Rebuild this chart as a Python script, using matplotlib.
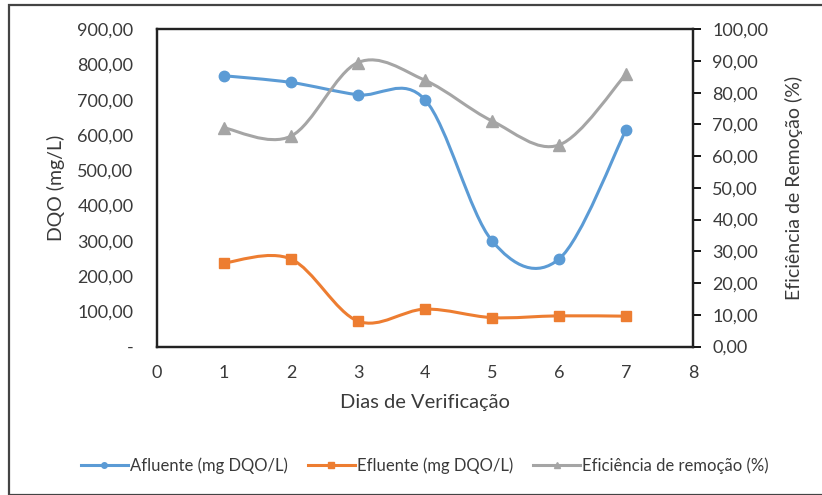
import matplotlib
matplotlib.use("Agg")
import matplotlib.pyplot as plt
from matplotlib.path import Path
from matplotlib.patches import PathPatch, Rectangle
from matplotlib.lines import Line2D
from matplotlib.ticker import FuncFormatter

dias = [1, 2, 3, 4, 5, 6, 7]
afluente = [768, 749, 714, 700, 300, 248, 614]
efluente = [237, 248, 72, 106, 82, 87, 86]
eficiencia = [68.9, 66.3, 89.5, 83.9, 71.1, 63.5, 85.8]

azul = "#5B9BD5"
laranja = "#ED7D31"
cinza = "#A5A5A5"
texto = "#3a3a3a"

plt.rcParams['font.family'] = ['Lato', 'DejaVu Sans']


def curva_suave(ax, x, y, cor):
    # bezier do tipo usado pelo Excel (linha suavizada)
    verts = [(x[0], y[0])]
    codes = [Path.MOVETO]
    n = len(x)
    for i in range(n - 1):
        x0, y0 = (x[i - 1], y[i - 1]) if i > 0 else (x[i], y[i])
        x3, y3 = (x[i + 2], y[i + 2]) if i + 2 < n else (x[i + 1], y[i + 1])
        c1 = (x[i] + (x[i + 1] - x0) / 6, y[i] + (y[i + 1] - y0) / 6)
        c2 = (x[i + 1] - (x3 - x[i]) / 6, y[i + 1] - (y3 - y[i]) / 6)
        verts += [c1, c2, (x[i + 1], y[i + 1])]
        codes += [Path.CURVE4] * 3
    ax.add_patch(PathPatch(Path(verts, codes), fill=False, edgecolor=cor,
                           lw=2.2, capstyle='round', zorder=3))


fig = plt.figure(figsize=(8.22, 4.95), dpi=100)
ax = fig.add_axes([0.191, 0.300, 0.652, 0.641])
ax2 = ax.twinx()

curva_suave(ax, dias, afluente, azul)
ax.plot(dias, afluente, 'o', color=azul, ms=7.5, zorder=4)
curva_suave(ax, dias, efluente, laranja)
ax.plot(dias, efluente, 's', color=laranja, ms=7.5, zorder=4)
curva_suave(ax2, dias, eficiencia, cinza)
ax2.plot(dias, eficiencia, '^', color=cinza, ms=8, zorder=4)

ax.set_xlim(0, 8)
ax.set_ylim(0, 900)
ax2.set_ylim(0, 100)
ax.set_xticks(range(0, 9))
ax.set_yticks(range(0, 901, 100))
ax2.set_yticks(range(0, 101, 10))

fmt_esq = FuncFormatter(lambda v, p: "-" if v == 0 else f"{v:.2f}".replace(".", ","))
fmt_dir = FuncFormatter(lambda v, p: f"{v:.2f}".replace(".", ","))
ax.yaxis.set_major_formatter(fmt_esq)
ax2.yaxis.set_major_formatter(fmt_dir)

ax.tick_params(axis='x', length=0, labelsize=13, colors=texto, pad=13)
ax.tick_params(axis='y', length=0, labelsize=13, colors=texto, pad=17)
ax2.tick_params(axis='y', length=6, width=1.3, labelsize=13, labelcolor=texto,
                color='black', direction='out', pad=8)

for a in (ax, ax2):
    for s in a.spines.values():
        s.set_color('#222222')
        s.set_linewidth(1.6)
ax.spines['top'].set_color('#444444')

ax.set_xlabel("Dias de Verificação", fontsize=14.5, color=texto, labelpad=10)
ax.set_ylabel("DQO (mg/L)", fontsize=14, color=texto, labelpad=9)
ax2.set_ylabel("Eficiência de Remoção (%)", fontsize=14, color=texto, labelpad=12)

handles = [
    Line2D([], [], color=azul, lw=2.2, marker='o', ms=4),
    Line2D([], [], color=laranja, lw=2.2, marker='s', ms=5),
    Line2D([], [], color=cinza, lw=2.2, marker='^', ms=4),
]
labels = ["Afluente (mg DQO/L)", "Efluente (mg DQO/L)", "Eficiência de remoção (%)"]
fig.legend(handles, labels, loc='center', bbox_to_anchor=(0.517, 0.06), ncol=3,
           frameon=False, fontsize=12, handlelength=2.8, handletextpad=0.15,
           columnspacing=1.2, labelcolor=texto)

fig.patches.append(Rectangle((9 / 822, 0), 1.2, 1 - 5 / 495, transform=fig.transFigure,
                             fill=False, edgecolor='#444444', lw=1.6))

fig.savefig("out.png", dpi=100)
